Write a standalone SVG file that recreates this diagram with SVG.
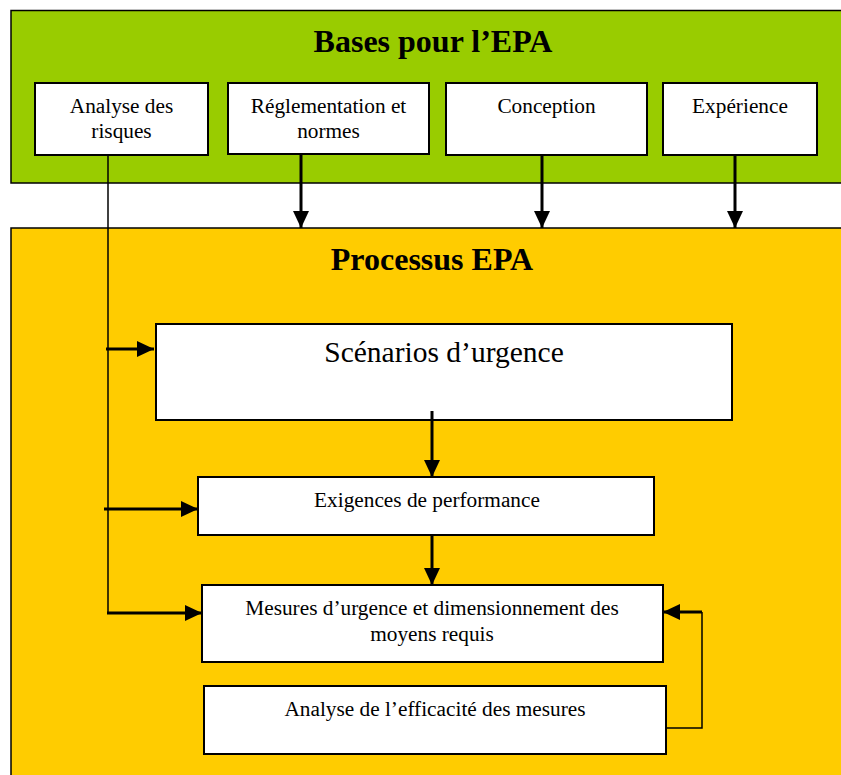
<svg xmlns="http://www.w3.org/2000/svg" width="841" height="775" viewBox="0 0 841 775">
  <defs>
    <marker id="arrow" viewBox="0 0 17 16" refX="17" refY="8" markerWidth="17" markerHeight="16" markerUnits="userSpaceOnUse" orient="auto">
      <path d="M0,0 L17,8 L0,16 Z" fill="#000"/>
    </marker>
    <style>
      .panel { stroke: #000; stroke-width: 1.5; }
      .box { fill: #fff; stroke: #000; stroke-width: 2; }
      .title { font-family: "Liberation Serif", "Times New Roman", serif; font-weight: bold; font-size: 32px; text-anchor: middle; fill: #000; }
      .label { font-family: "Liberation Serif", "Times New Roman", serif; font-size: 21.3px; text-anchor: middle; fill: #000; }
      .big { font-family: "Liberation Serif", "Times New Roman", serif; font-size: 29.5px; text-anchor: middle; fill: #000; }
      .thick { fill: none; stroke: #000; stroke-width: 3; }
      .thin { fill: none; stroke: #000; stroke-width: 1.5; }
    </style>
  </defs>

  <rect width="841" height="775" fill="#fff"/>

  <!-- Upper panel: bases -->
  <g id="bases">
    <rect class="panel" x="11" y="10.5" width="832" height="172.5" fill="#99CC00"/>
    <text class="title" x="433" y="52">Bases pour l’EPA</text>
  </g>

  <!-- Lower panel: process -->
  <g id="processus">
    <rect class="panel" x="11" y="228" width="832" height="550" fill="#FFCC00"/>
    <text class="title" x="432" y="270">Processus EPA</text>
  </g>

  <g id="analyse-risques">
    <rect class="box" x="35" y="83" width="173" height="72"/>
    <text class="label" x="121.5" y="113">Analyse des</text>
    <text class="label" x="121.5" y="138">risques</text>
  </g>

  <g id="reglementation">
    <rect class="box" x="228" y="83" width="201" height="71"/>
    <text class="label" x="328.5" y="113">Réglementation et</text>
    <text class="label" x="328.5" y="138">normes</text>
  </g>

  <g id="conception">
    <rect class="box" x="446" y="83" width="201" height="72"/>
    <text class="label" x="546.5" y="113">Conception</text>
  </g>

  <g id="experience">
    <rect class="box" x="663" y="83" width="154" height="72"/>
    <text class="label" x="740" y="113">Expérience</text>
  </g>

  <g id="scenarios">
    <rect class="box" x="156" y="324" width="576" height="96"/>
    <text class="big" x="444" y="362">Scénarios d’urgence</text>
  </g>

  <g id="exigences">
    <rect class="box" x="198" y="477" width="456" height="58"/>
    <text class="label" x="427" y="507">Exigences de performance</text>
  </g>

  <g id="mesures">
    <rect class="box" x="202" y="585" width="461" height="77"/>
    <text class="label" x="432" y="615">Mesures d’urgence et dimensionnement des</text>
    <text class="label" x="432" y="641">moyens requis</text>
  </g>

  <g id="efficacite">
    <rect class="box" x="204" y="686" width="462" height="68"/>
    <text class="label" x="435" y="716">Analyse de l’efficacité des mesures</text>
  </g>

  <!-- Connectors -->
  <g id="connectors">
    <path class="thick" d="M301,155 V228" marker-end="url(#arrow)"/>
    <path class="thick" d="M542,155 V228" marker-end="url(#arrow)"/>
    <path class="thick" d="M735,155 V228" marker-end="url(#arrow)"/>

    <path class="thin" d="M108,155 V614"/>
    <path class="thick" d="M106,349 H154" marker-end="url(#arrow)"/>
    <path class="thick" d="M104,509 H198" marker-end="url(#arrow)"/>
    <path class="thick" d="M107,613 H202" marker-end="url(#arrow)"/>

    <path class="thick" d="M432,411 V477" marker-end="url(#arrow)"/>
    <path class="thick" d="M432,535 V585" marker-end="url(#arrow)"/>

    <path class="thin" d="M666,728 H702 V612"/>
    <path class="thick" d="M702,612 H663" marker-end="url(#arrow)"/>
  </g>
</svg>
